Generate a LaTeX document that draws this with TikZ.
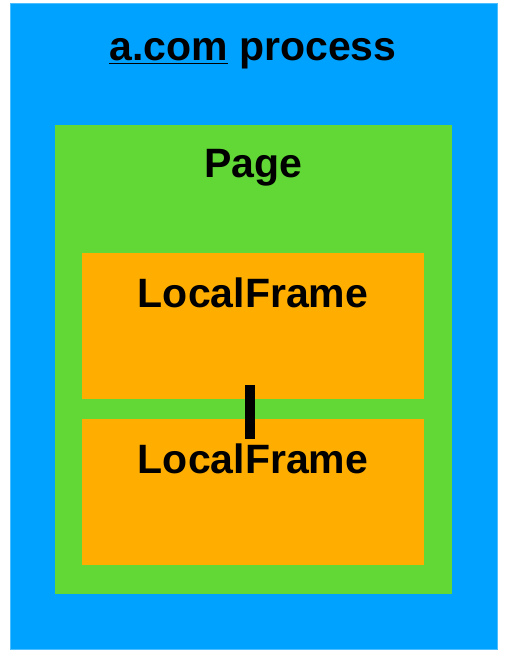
\documentclass[tikz,border=0pt]{standalone}
\usepackage{fontspec}
\setmainfont{Liberation Sans}
\usepackage{xcolor}
\usepackage{tikz}
\usetikzlibrary{positioning,calc}
\definecolor{kblue}{HTML}{00A2FF}
\definecolor{kgreen}{HTML}{61D836}
\definecolor{korange}{HTML}{FFAE00}

\begin{document}
\begin{tikzpicture}[x=1pt,y=1pt,
    box/.style={rectangle, inner sep=0pt, outer sep=0pt},
    lbl/.style={anchor=base, font=\fontsize{41}{45}\selectfont\bfseries},
    bar/.style={line width=10pt, black}]
    \useasboundingbox (0,0) rectangle (504,658);
    % Process
    \node[box, fill=kblue, draw=kblue!70!white, line width=0.6pt, minimum width=487pt, minimum height=646pt] (proc) at (253.5,332) {};
    \node[lbl] (proctitle) at (253,597) {\underline{a.com} process};
    % Page
    \node[box, fill=kgreen, minimum width=397pt, minimum height=469pt] (page) at (253.5,298.5) {};
    \node[lbl] (pagetitle) at (253,480) {Page};
    % Frames
    \node[box, fill=korange, minimum width=342pt, minimum height=146pt] (frameA) at (253,332) {};
    \node[lbl] (frameAtitle) at (253,350) {LocalFrame};
    \node[box, fill=korange, minimum width=342pt, minimum height=146pt] (frameB) at (253,166) {};
    \node[lbl] (frameBtitle) at (253,184) {LocalFrame};
    % Link
    \draw[bar, shorten <=-14pt, shorten >=-20pt] ([xshift=-3pt]frameA.south) -- ([xshift=-3pt]frameB.north);
\end{tikzpicture}
\end{document}
